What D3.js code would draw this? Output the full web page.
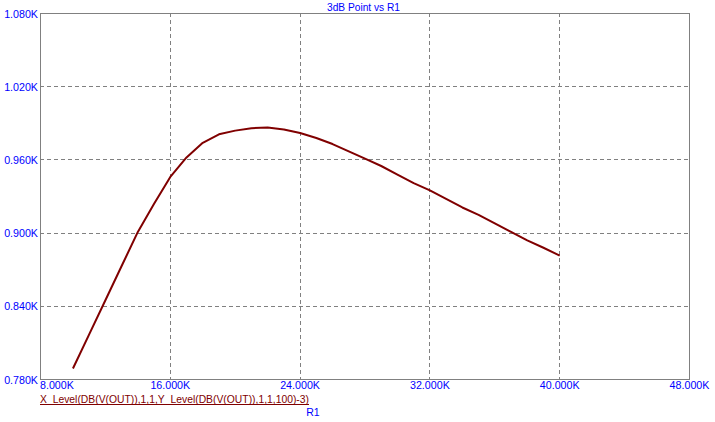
<!DOCTYPE html>
<html>
<head>
<meta charset="utf-8">
<script src="https://cdn.jsdelivr.net/npm/d3@7"></script>
<style>
  html, body { margin: 0; padding: 0; background: #fff; }
  svg { display: block; }
  text { font-family: Arial, "Liberation Sans", sans-serif; }
</style>
</head>
<body>
<svg id="chart" width="715" height="422"></svg>
<script>
// ---- data (R1 in ohms, 3dB point in Hz) ----
const r1Values = [10000, 11000, 12000, 13000, 14000, 15000, 16000, 17000, 18000, 19000,
                  20000, 21000, 22000, 23000, 24000, 25000, 26000, 27000, 28000, 29000,
                  30000, 31000, 32000, 33000, 34000, 35000, 36000, 37000, 38000, 39000, 40000];
const f3dbValues = [789, 817, 845, 873, 901, 924, 946, 962, 974, 981,
                    984, 986, 986.5, 985, 982, 978, 973, 967, 961, 955,
                    948, 941, 935, 928, 921, 915, 908, 901, 894, 888, 881.6];
const xTicks = [8000, 16000, 24000, 32000, 40000, 48000];
const yTicks = [780, 840, 900, 960, 1020, 1080];
const titleText = "3dB Point vs R1";
const exprText = "X_Level(DB(V(OUT)),1,1,Y_Level(DB(V(OUT)),1,1,100)-3)";
const xAxisName = "R1";

(function () {
const svg = d3.select("#chart");
const pL = 40, pR = 689.5, pT = 13, pB = 379;
const x = d3.scaleLinear().domain([8000, 48000]).range([pL + 0.5, pR]);
const y = d3.scaleLinear().domain([780, 1080]).range([pB + 0.5, pT + 0.5]);
const fmt = v => (v / 1000).toFixed(3) + "K";
const blue = "#0000ff", gray = "#808080", dark = "#800000";

// grid
const g = svg.append("g");
g.selectAll("line.vg").data(xTicks.slice(1, -1)).enter().append("line")
  .attr("x1", d => Math.floor(x(d)) + 0.5).attr("x2", d => Math.floor(x(d)) + 0.5)
  .attr("y1", pT).attr("y2", pB)
  .attr("stroke", gray).attr("stroke-width", 1).attr("stroke-dasharray", "4,3");
g.selectAll("line.hg").data(yTicks.slice(1, -1)).enter().append("line")
  .attr("x1", pL).attr("x2", pR)
  .attr("y1", d => Math.floor(y(d)) + 0.5).attr("y2", d => Math.floor(y(d)) + 0.5)
  .attr("stroke", gray).attr("stroke-width", 1).attr("stroke-dasharray", "4,3");

// frame
svg.append("rect")
  .attr("x", pL + 0.5).attr("y", pT + 0.5)
  .attr("width", pR - pL - 0.5).attr("height", pB - pT)
  .attr("fill", "none").attr("stroke", gray).attr("stroke-width", 1);

// curve
const line = d3.line().x((d, i) => x(r1Values[i])).y(d => y(d));
svg.append("path").datum(f3dbValues)
  .attr("d", line)
  .attr("fill", "none").attr("stroke", dark).attr("stroke-width", 2)
  .attr("stroke-linejoin", "round");

// y labels
svg.selectAll("text.yl").data(yTicks).enter().append("text")
  .attr("x", 38).attr("y", d => y(d) + 4)
  .attr("text-anchor", "end").attr("fill", blue).attr("font-size", "10.7px")
  .text(fmt);

// x labels
svg.selectAll("text.xl").data(xTicks).enter().append("text")
  .attr("x", d => d === xTicks[0] ? pL : x(d))
  .attr("y", 389)
  .attr("text-anchor", d => d === xTicks[0] ? "start" : "middle")
  .attr("fill", blue).attr("font-size", "10.7px")
  .text(fmt);

// title
svg.append("text").attr("x", 363.5).attr("y", 10.5)
  .attr("text-anchor", "middle").attr("fill", blue).attr("font-size", "10.2px")
  .text(titleText);

// expression label (underlined)
svg.append("text").attr("x", 40).attr("y", 402.5)
  .attr("fill", dark).attr("font-size", "10.5px")
  .attr("textLength", 269).attr("lengthAdjust", "spacingAndGlyphs")
  .text(exprText);
svg.append("line").attr("x1", 40).attr("x2", 309).attr("y1", 404.5).attr("y2", 404.5)
  .attr("stroke", dark).attr("stroke-width", 1);

// x axis name
svg.append("text").attr("x", 313).attr("y", 415.5)
  .attr("text-anchor", "middle").attr("fill", blue).attr("font-size", "10.5px")
  .text(xAxisName);
})();
</script>
</body>
</html>
